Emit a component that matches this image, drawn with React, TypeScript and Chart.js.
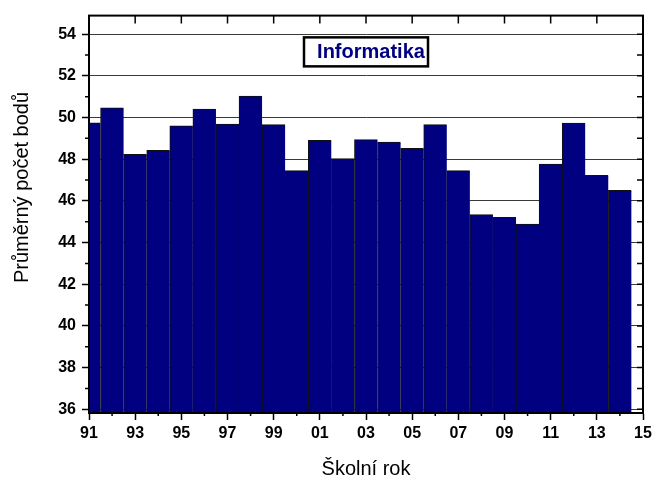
import React, { useEffect, useRef } from "react";
import { Chart, registerables } from "chart.js";

Chart.register(...registerables);

const YEARS = [1991, 1992, 1993, 1994, 1995, 1996, 1997, 1998, 1999, 2000, 2001, 2002, 2003, 2004, 2005, 2006, 2007, 2008, 2009, 2010, 2011, 2012, 2013, 2014];
const SCORES = [49.74, 50.46, 48.23, 48.43, 49.6, 50.41, 49.69, 51.03, 49.66, 47.45, 48.91, 48.03, 48.94, 48.82, 48.52, 49.66, 47.45, 45.34, 45.21, 44.89, 47.77, 49.73, 47.23, 46.5];
const X_TICKS = [1991, 1993, 1995, 1997, 1999, 2001, 2003, 2005, 2007, 2009, 2011, 2013, 2015];
const X_TICK_LABELS = ["91", "93", "95", "97", "99", "01", "03", "05", "07", "09", "11", "13", "15"];
const Y_TICKS = [36, 38, 40, 42, 44, 46, 48, 50, 52, 54];
const Y_MIN = 35.82;
const Y_MAX = 54.89;
const TITLE = "Informatika";
const X_TITLE = "Školní rok";
const Y_TITLE = "Průměrný počet bodů";

const FONT = "'Liberation Sans', Arial, Helvetica, sans-serif";

const decorations = {
  id: "decorations",
  afterDraw(chart: any) {
    const { ctx, chartArea: a, scales } = chart;
    const x = scales.x;
    const y = scales.y;
    ctx.save();
    ctx.strokeStyle = "#000";
    ctx.lineWidth = 1.5;
    ctx.beginPath();
    for (let v = Math.ceil(y.min); v <= y.max; v++) {
      const py = y.getPixelForValue(v);
      if (v % 2 !== 0) {
        ctx.moveTo(a.left - 4, py);
        ctx.lineTo(a.left, py);
      }
      ctx.moveTo(a.right - 6, py);
      ctx.lineTo(a.right, py);
    }
    for (let i = 1; i < X_TICKS.length - 1; i++) {
      const px = x.getPixelForValue(X_TICKS[i]);
      ctx.moveTo(px, a.top);
      ctx.lineTo(px, a.top + 8);
    }
    for (let i = 0; i < X_TICKS.length - 1; i++) {
      const px = x.getPixelForValue((X_TICKS[i] + X_TICKS[i + 1]) / 2);
      ctx.moveTo(px, a.bottom);
      ctx.lineTo(px, a.bottom + 3);
    }
    ctx.stroke();

    ctx.lineWidth = 2;
    ctx.strokeRect(a.left, a.top, a.right - a.left, a.bottom - a.top);

    // title box
    const cx = x.getPixelForValue(2003);
    const cy = y.getPixelForValue(53.15);
    const bw = 124;
    const bh = 29;
    ctx.fillStyle = "#fff";
    ctx.fillRect(cx - bw / 2, cy - bh / 2, bw, bh);
    ctx.lineWidth = 2.5;
    ctx.strokeRect(cx - bw / 2, cy - bh / 2, bw, bh);
    ctx.fillStyle = "#000080";
    ctx.font = `bold 20px ${FONT}`;
    ctx.textAlign = "center";
    ctx.textBaseline = "middle";
    ctx.fillText(TITLE, cx + 5, cy + 1);

    // axis titles
    ctx.fillStyle = "#000";
    ctx.font = `20px ${FONT}`;
    ctx.textAlign = "center";
    ctx.textBaseline = "alphabetic";
    ctx.fillText(X_TITLE, (a.left + a.right) / 2, 475);
    ctx.translate(28, 187.5);
    ctx.rotate(-Math.PI / 2);
    ctx.fillText(Y_TITLE, 0, 0);
    ctx.restore();
  },
};

export default function App() {
  const ref = useRef<HTMLCanvasElement | null>(null);

  useEffect(() => {
    if (!ref.current) return;
    const chart = new Chart(ref.current, {
      type: "bar",
      data: {
        datasets: [
          {
            data: YEARS.map((yr, i) => ({ x: yr, y: SCORES[i] })),
            backgroundColor: "#000080",
            borderColor: "#111",
            borderWidth: { top: 1, left: 1, right: 0, bottom: 0 } as any,
            borderSkipped: false,
            barPercentage: 1,
            categoryPercentage: 1,
            clip: 0 as any,
          },
        ],
      },
      options: {
        animation: false,
        responsive: false,
        layout: { padding: { left: 0, top: 13, right: 13, bottom: 0 } },
        plugins: { legend: { display: false }, tooltip: { enabled: false } },
        scales: {
          x: {
            type: "linear",
            min: X_TICKS[0],
            max: X_TICKS[X_TICKS.length - 1],
            offset: false,
            afterFit: (s: any) => {
              s.height = 67;
            },
            afterBuildTicks: (s: any) => {
              s.ticks = X_TICKS.map((v) => ({ value: v }));
            },
            ticks: {
              autoSkip: false,
              maxRotation: 0,
              padding: 4,
              color: "#000",
              font: { family: FONT, size: 16, weight: "bold" },
              callback: (v: any) => X_TICK_LABELS[X_TICKS.indexOf(Number(v))] ?? "",
            },
            grid: {
              offset: false,
              drawOnChartArea: false,
              drawTicks: true,
              tickLength: 7,
              tickColor: "#000",
              tickWidth: 1.5,
            },
            border: { display: true, color: "#000", width: 2 },
          },
          y: {
            type: "linear",
            min: Y_MIN,
            max: Y_MAX,
            afterFit: (s: any) => {
              s.width = 89;
            },
            afterBuildTicks: (s: any) => {
              s.ticks = Y_TICKS.map((v) => ({ value: v }));
            },
            ticks: {
              padding: 6,
              color: "#000",
              font: { family: FONT, size: 16, weight: "bold" },
              callback: (v: any) => String(v),
            },
            grid: {
              color: "#3a3a3a",
              lineWidth: 1,
              drawTicks: true,
              tickLength: 7,
              tickColor: "#000",
              tickWidth: 1.5,
            },
            border: { display: true, color: "#000", width: 2 },
          },
        },
      } as any,
      plugins: [decorations],
    });
    return () => chart.destroy();
  }, []);

  return (
    <div style={{ position: "absolute", left: 0, top: 0, width: 656, height: 480, background: "#fff" }}>
      <canvas ref={ref} width={656} height={480} style={{ display: "block" }} />
    </div>
  );
}
